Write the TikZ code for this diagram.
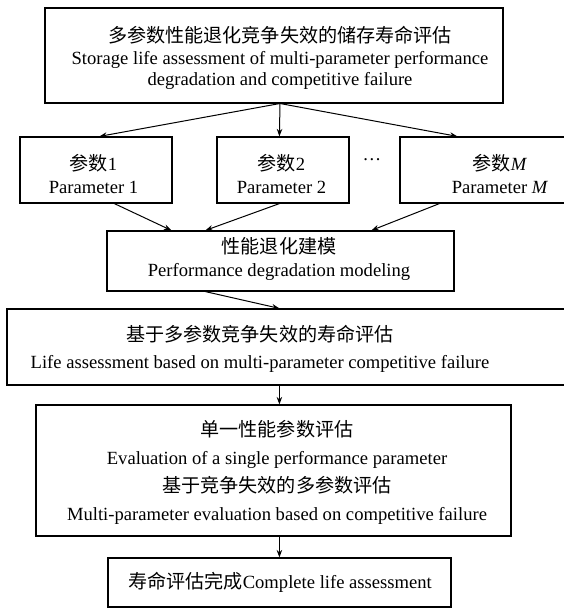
\documentclass[tikz,border=0pt]{standalone}
\usepackage{fontspec}
\setmainfont{Liberation Serif}
\newfontfamily\cjk[Scale=1.027]{Noto Sans CJK SC}
\usetikzlibrary{arrows.meta}
\begin{document}
\begin{tikzpicture}[x=1pt,y=-1pt,
  box/.style={draw, line width=1.2pt, inner sep=0pt},
  txt/.style={align=center, inner sep=0pt, font=\fontsize{18.6}{21.5}\selectfont},
  arr/.style={line width=1pt, -{Stealth[length=7.5pt,width=5.5pt]}}]
\useasboundingbox (0,0) rectangle (563,608);
% boxes
\node[box, minimum width=458pt, minimum height=95pt] (top) at (274,55.5) {};
\node[box, minimum width=152pt, minimum height=66pt] (p1) at (96,170) {};
\node[box, minimum width=132pt, minimum height=66pt] (p2) at (283,170) {};
\node[box, minimum width=200pt, minimum height=66pt] (pM) at (500,170) {};
\node[box, minimum width=347pt, minimum height=60pt] (perf) at (280.5,261) {};
\node[box, minimum width=580pt, minimum height=76pt] (life) at (297,347) {};
\node[box, minimum width=475pt, minimum height=131pt] (eval) at (273.5,470.5) {};
\node[box, minimum width=343pt, minimum height=49pt] (fin) at (279.5,582.5) {};
% texts
\node[txt] (ttop) at (280,58) {{\cjk 多参数性能退化竞争失效的储存寿命评估}\\Storage life assessment of multi-parameter performance\\degradation and competitive failure};
\node[txt, font=\fontsize{18.6}{23}\selectfont] (tp1) at (93.5,174) {{\cjk 参数}1\\Parameter 1};
\node[txt, font=\fontsize{18.6}{23}\selectfont] (tp2) at (281.5,174) {{\cjk 参数}2\\Parameter 2};
\node[txt, font=\fontsize{18.6}{23}\selectfont] (tpM) at (500,174) {{\cjk 参数}\textit{M}\\Parameter \textit{M}};
\node[txt] (dots) at (372,160) {\ldots};
\node[txt, font=\fontsize{18.6}{22.5}\selectfont] (tperf) at (279,259) {{\cjk 性能退化建模}\\Performance degradation modeling};
\node[txt, font=\fontsize{18.6}{27}\selectfont] (tlife) at (260,349) {{\cjk 基于多参数竞争失效的寿命评估}\\Life assessment based on multi-parameter competitive failure};
\node[txt, font=\fontsize{18.6}{28}\selectfont] (teval) at (277,472) {{\cjk 单一性能参数评估}\\Evaluation of a single performance parameter\\{\cjk 基于竞争失效的多参数评估}\\Multi-parameter evaluation based on competitive failure};
\node[txt] (tfin) at (280,582) {{\cjk 寿命评估完成}Complete life assessment};
% arrows
\coordinate (src) at (280,103.5);
\draw[arr] (src) -- ([xshift=80pt]p1.north west);
\draw[arr] (src) -- ([xshift=63pt]p2.north west);
\draw[arr] (src) -- ([xshift=58pt]pM.north west);
\draw[arr] ([xshift=95pt]p1.south west) -- ([xshift=65pt]perf.north west);
\draw[arr] ([xshift=63pt]p2.south west) -- ([xshift=99pt]perf.north west);
\draw[arr] ([xshift=40pt]pM.south west) -- ([xshift=265pt]perf.north west);
\draw[arr] ([xshift=99pt]perf.south west) -- ([xshift=273pt]life.north west);
\draw[arr] ([xshift=273pt]life.south west) -- ([xshift=244pt]eval.north west);
\draw[arr] ([xshift=244pt]eval.south west) -- ([xshift=172pt]fin.north west);
\end{tikzpicture}
\end{document}
